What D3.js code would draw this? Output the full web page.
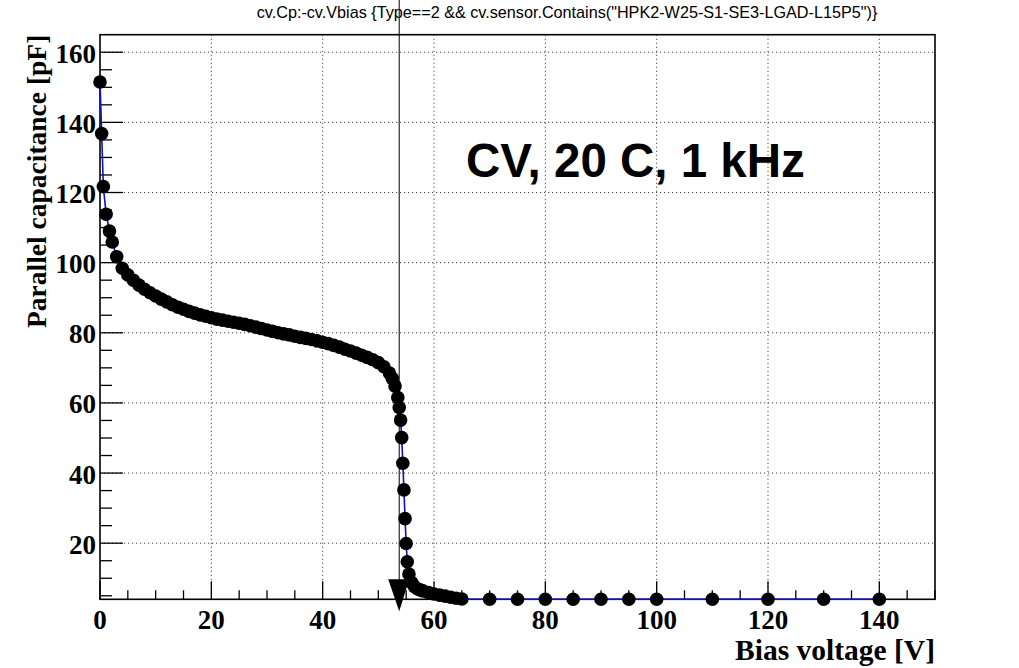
<!DOCTYPE html>
<html>
<head>
<meta charset="utf-8">
<script src="https://cdn.jsdelivr.net/npm/d3@7"></script>
<style>
  body { margin: 0; background: #fff; }
  svg { display: block; }
</style>
</head>
<body>
<svg width="1019" height="668"></svg>
<script>
// data
const voltage = [
    0, 0.3, 0.6, 1.1, 1.7, 2.2, 3, 4, 5, 6, 7, 8, 9, 10,
    11, 12, 13, 14, 15, 16, 17, 18, 19, 20, 21, 22, 23, 24, 25,
    26, 27, 28, 29, 30, 31, 32, 33, 34, 35, 36, 37, 38, 39, 40,
    41, 42, 43, 44, 45, 46, 47, 48, 49, 50, 51, 52, 52.5, 53, 53.5,
    53.75, 54, 54.2, 54.4, 54.6, 54.8, 55, 55.2, 55.5, 56, 56.5, 57,
    57.5, 58, 59, 60, 61, 62, 63, 64, 65,
    70, 75, 80, 85, 90, 95, 100, 110, 120, 130, 140
];
const capacitance = [
    151.5, 136.8, 121.7, 113.8, 109, 105.9, 101.7, 98.4, 96.5, 95.0, 93.6, 92.4, 91.4, 90.5,
    89.6, 88.8, 88.0, 87.3, 86.7, 86.1, 85.6, 85.1, 84.7, 84.3, 83.9, 83.6, 83.3, 83.0, 82.7,
    82.4, 82.0, 81.6, 81.2, 80.8, 80.4, 80.0, 79.7, 79.4, 79.0, 78.7, 78.4, 78.1, 77.7, 77.3,
    76.9, 76.4, 75.9, 75.3, 74.8, 74.2, 73.6, 73.0, 72.3, 71.5, 70.3, 68.5, 67.0, 64.8, 61.5,
    58.7, 55.1, 50.1, 42.8, 35.2, 27.0, 19.9, 14.7, 11.2, 8.8, 7.6, 7.0,
    6.7, 6.4, 5.9, 5.5, 5.2, 4.9, 4.6, 4.3, 4.1,
    4.0, 4.0, 4.0, 4.0, 4.0, 4.0, 4.0, 4.0, 4.0, 4.0, 4.0
];

const xTicks = [0, 20, 40, 60, 80, 100, 120, 140];
const yTicks = [20, 40, 60, 80, 100, 120, 140, 160];
const vDepletion = 53.75;

const titleText = 'cv.Cp:-cv.Vbias {Type==2 && cv.sensor.Contains("HPK2-W25-S1-SE3-LGAD-L15P5")}';
const labelText = "CV, 20 C, 1 kHz";

const svg = d3.select("svg");

const padL = 100, padR = 935, padT = 34.7, padB = 599.3;

const x = d3.scaleLinear().domain([0, 150]).range([padL, padR]);
const y = d3.scaleLinear().domain([4.0, 165.0]).range([padB, padT]);

const points = voltage.map((v, i) => ({ v: v, c: capacitance[i] }));

// сетка
const grid = svg.append("g")
    .attr("stroke", "#444")
    .attr("stroke-width", 1)
    .attr("stroke-dasharray", "1.2,2.8");

grid.selectAll("line.gx")
    .data(xTicks.filter(d => d > 0))
    .join("line")
    .attr("class", "gx")
    .attr("x1", d => x(d)).attr("x2", d => x(d))
    .attr("y1", padT).attr("y2", padB);

grid.selectAll("line.gy")
    .data(yTicks)
    .join("line")
    .attr("class", "gy")
    .attr("x1", padL).attr("x2", padR)
    .attr("y1", d => y(d)).attr("y2", d => y(d));

// тики внутри рамки
const xMinor = d3.range(0, 150.1, 5);
const yMinor = d3.range(5, 165, 5);

svg.append("g").attr("stroke", "#000").attr("stroke-width", 1.3)
    .selectAll("line")
    .data(xMinor)
    .join("line")
    .attr("x1", d => x(d)).attr("x2", d => x(d))
    .attr("y1", padB)
    .attr("y2", d => padB - (d % 20 === 0 ? 18 : 9));

svg.append("g").attr("stroke", "#000").attr("stroke-width", 1.3)
    .selectAll("line")
    .data(yMinor)
    .join("line")
    .attr("y1", d => y(d)).attr("y2", d => y(d))
    .attr("x1", padL)
    .attr("x2", d => padL + (d % 20 === 0 ? 23 : 12));

// рамка
svg.append("rect")
    .attr("x", padL).attr("y", padT)
    .attr("width", padR - padL).attr("height", padB - padT)
    .attr("fill", "none")
    .attr("stroke", "#000")
    .attr("stroke-width", 1.6);

// подписи тиков
const tickFont = "'Liberation Serif', 'Times New Roman', serif";

svg.append("g").selectAll("text")
    .data(xTicks)
    .join("text")
    .attr("x", d => x(d))
    .attr("y", 629)
    .attr("text-anchor", "middle")
    .attr("font-family", tickFont)
    .attr("font-weight", "bold")
    .attr("font-size", 27)
    .text(d => d);

svg.append("g").selectAll("text")
    .data(yTicks)
    .join("text")
    .attr("x", 96)
    .attr("y", d => y(d) + 10.5)
    .attr("text-anchor", "end")
    .attr("font-family", tickFont)
    .attr("font-weight", "bold")
    .attr("font-size", 27)
    .text(d => d);

// названия осей
svg.append("text")
    .attr("x", padR)
    .attr("y", 660)
    .attr("text-anchor", "end")
    .attr("font-family", tickFont)
    .attr("font-weight", "bold")
    .attr("font-size", 29.5)
    .text("Bias voltage [V]");

svg.append("text")
    .attr("transform", `translate(46,${padT}) rotate(-90)`)
    .attr("text-anchor", "end")
    .attr("font-family", tickFont)
    .attr("font-weight", "bold")
    .attr("font-size", 27.5)
    .text("Parallel capacitance [pF]");

// линия графика
const line = d3.line()
    .x(d => x(d.v))
    .y(d => y(d.c));

svg.append("path")
    .attr("d", line(points))
    .attr("fill", "none")
    .attr("stroke", "#1010c0")
    .attr("stroke-width", 1.6);

// маркеры
svg.append("g").selectAll("circle")
    .data(points)
    .join("circle")
    .attr("cx", d => x(d.v))
    .attr("cy", d => y(d.c))
    .attr("r", 6.8)
    .attr("fill", "#000");

// вертикальная линия и стрелка
const xa = x(vDepletion);

svg.append("line")
    .attr("x1", xa).attr("x2", xa)
    .attr("y1", 0).attr("y2", padB)
    .attr("stroke", "#000")
    .attr("stroke-width", 1);

svg.append("path")
    .attr("d", `M${xa - 11},${padB - 20} L${xa + 10},${padB - 20} L${xa},${padB + 12} Z`)
    .attr("fill", "#000");

// заголовок
svg.append("text")
    .attr("x", 567)
    .attr("y", 18)
    .attr("text-anchor", "middle")
    .attr("font-family", "'Liberation Sans', Arial, sans-serif")
    .attr("font-size", 16.2)
    .text(titleText);

svg.append("text")
    .attr("x", 466)
    .attr("y", 177)
    .attr("font-family", "'Liberation Sans', Arial, sans-serif")
    .attr("font-weight", "bold")
    .attr("font-size", 47.5)
    .text(labelText);
</script>
</body>
</html>
